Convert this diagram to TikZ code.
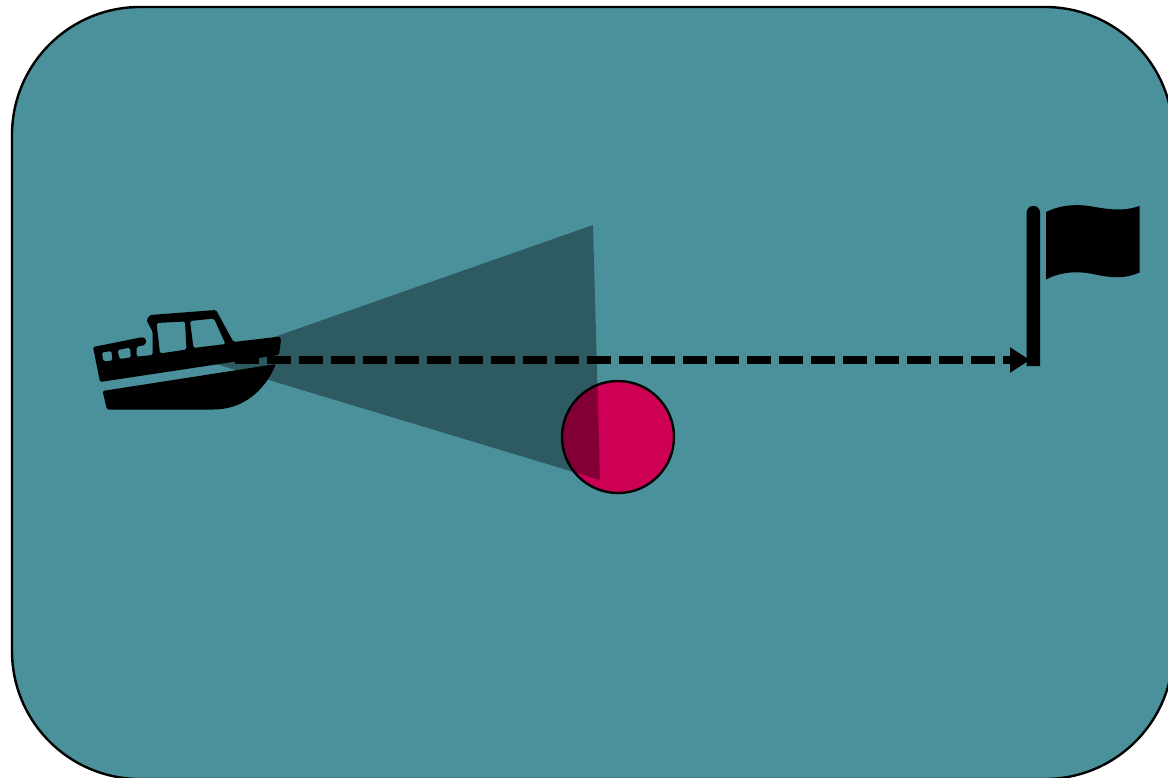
\documentclass[tikz,border=0pt]{standalone}
\usetikzlibrary{arrows.meta}
\definecolor{seacolor}{HTML}{4A919B}
\definecolor{buoycolor}{HTML}{CE0055}
\tikzset{
    sea/.style={draw=black, line width=2.4pt, fill=seacolor, rounded corners=128pt},
    buoy/.style={circle, draw=black, line width=2.4pt, fill=buoycolor, inner sep=0pt, minimum size=112pt},
    beam/.style={fill=black, fill opacity=0.37},
    route/.style={line width=8pt, dash pattern=on 24pt off 8pt, -{Triangle[length=20pt,width=24pt]}},
    icon/.style={fill=black, even odd rule}
}
\begin{document}
\begin{tikzpicture}[x=1pt, y=-1pt]
    \useasboundingbox (0,0) rectangle (1168,778);
    % SEA
    \draw[sea] (12,7) rectangle (1173,779);
    % BOAT
    \fill[icon, rounded corners=1.5pt] (93,347) -- (143,337) -- (146.5,340) -- (145,345) -- (136.7,346.7)
        -- (136.7,356.7) -- (152.7,355) -- (152.7,332) -- (146.5,320) -- (150,315) -- (216,310)
        -- (233.5,342) -- (280,336.5) -- (281,340) -- (279,355) -- (100,382) -- cycle
        (101.7,352.5) -- (111.5,351) -- (112.5,360.5) -- (103.5,361.5) -- cycle
        (117.5,350) -- (130,347.5) -- (131,357.5) -- (119.5,359) -- cycle
        (156.5,323) -- (185,321.5) -- (186.5,349.5) -- (160,353.5) -- cycle
        (190,321) -- (214,318.5) -- (225.5,344) -- (193.5,348) -- cycle;
    \fill[icon, rounded corners=1.5pt] (102.5,391) -- (276,364)
        .. controls (264,392) and (242,409.5) .. (212,409.5) -- (107,409.5) -- cycle;
    % BUOY
    \node[buoy] (buoy) at (618,437) {};
    % BEAM
    \fill[beam] (206,361) -- (593,225) -- (600,480) -- cycle;
    % FLAG
    \fill[icon] (1026.7,366) -- (1026.7,212.5) arc[start angle=180, end angle=360, radius=6.65] -- (1040,366) -- cycle;
    \fill[icon] (1046,212) .. controls (1062,204) and (1080,204) .. (1095,207)
        .. controls (1112,210) and (1125,211) .. (1139.5,206) -- (1139.5,272.5)
        .. controls (1125,279) and (1112,278) .. (1095,274.5)
        .. controls (1080,271) and (1062,271) .. (1046,279.5) -- cycle;
    % ROUTE
    \coordinate (boat) at (235,360);
    \coordinate (flag) at (1030,360);
    \draw[route] (boat) -- (flag);
\end{tikzpicture}
\end{document}
